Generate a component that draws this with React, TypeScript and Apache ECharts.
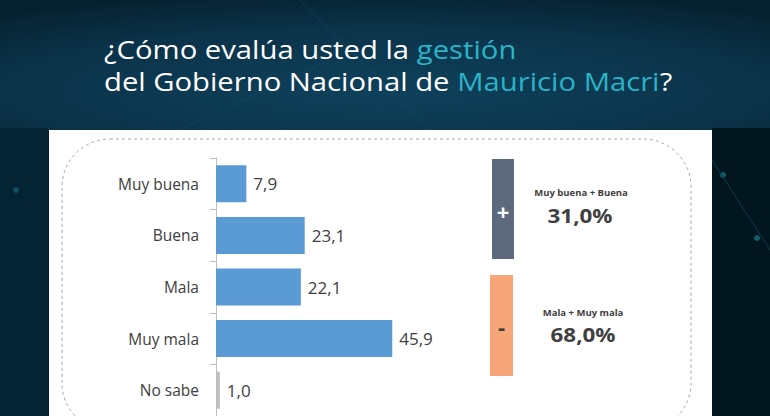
import React, { useEffect, useRef } from "react";
import * as echarts from "echarts";

const categories = ["Muy buena", "Buena", "Mala", "Muy mala", "No sabe"];
const values = [7.9, 23.1, 22.1, 45.9, 1.0];
const barColors = ["#5b9bd5", "#5b9bd5", "#5b9bd5", "#5b9bd5", "#bfbfbf"];

const summaryTitles = ["Muy buena + Buena", "Mala + Muy mala"];
const summaryValues = [31.0, 68.0];
const summarySigns = ["+", "-"];

const fmt = (v: number) => v.toFixed(1).replace(".", ",");

export default function App() {
  const ref = useRef<HTMLDivElement>(null);
  useEffect(() => {
    if (!ref.current) return;
    const chart = echarts.init(ref.current, undefined, { renderer: "svg" });
    const font = "'Open Sans', sans-serif";
    const titleRich = {
      w: { fill: "#ffffff", fontSize: 25, fontFamily: font },
      h: { fill: "#2bb3c8", fontSize: 25, fontFamily: font },
    };
    chart.setOption({
      animation: false,
      backgroundColor: "#03202b",
      grid: { left: 216, top: 158, width: 384, height: 260 },
      xAxis: { type: "value", min: 0, max: 100, show: false },
      yAxis: {
        type: "category",
        data: categories,
        inverse: true,
        axisLine: { show: true, lineStyle: { color: "#bfbfbf", width: 1 } },
        axisTick: { show: true, length: 6, lineStyle: { color: "#bfbfbf" } },
        axisLabel: { color: "#404040", fontSize: 15.5, fontFamily: font, margin: 17 },
      },
      graphic: [
        {
          type: "rect", z: -20,
          shape: { x: 0, y: 0, width: 770, height: 130 },
          style: {
            fill: new echarts.graphic.RadialGradient(0.5, 0.7, 0.8, [
              { offset: 0, color: "#0f415c" },
              { offset: 0.6, color: "#0b334a" },
              { offset: 1, color: "#05202e" },
            ]),
          },
        },
        {
          type: "rect", z: -20,
          shape: { x: 712, y: 128, width: 58, height: 288 },
          style: { fill: "#021620" },
        },
        {
          type: "rect", z: -20,
          shape: { x: 0, y: 128, width: 48, height: 288 },
          style: { fill: "#042433" },
        },
        { type: "circle", z: -19, shape: { cx: 723, cy: 175, r: 3 }, style: { fill: "#1f7890", opacity: 0.7 } },
        { type: "circle", z: -19, shape: { cx: 757, cy: 238, r: 3 }, style: { fill: "#1f7890", opacity: 0.7 } },
        { type: "circle", z: -19, shape: { cx: 16, cy: 190, r: 3 }, style: { fill: "#1f7890", opacity: 0.5 } },
        { type: "line", z: -19, shape: { x1: 712, y1: 160, x2: 770, y2: 250 }, style: { stroke: "#0f3a4a", lineWidth: 1 } },
        { type: "line", z: -19, shape: { x1: 300, y1: 0, x2: 430, y2: 130 }, style: { stroke: "#1a5570", lineWidth: 1, opacity: 0.4 } },
        { type: "line", z: -19, shape: { x1: 180, y1: 130, x2: 330, y2: 60 }, style: { stroke: "#1a5570", lineWidth: 1, opacity: 0.4 } },
        {
          type: "rect", z: -18,
          shape: { x: 49, y: 130, width: 663, height: 286 },
          style: { fill: "#ffffff" },
        },
        {
          type: "rect", z: -17,
          shape: { x: 62, y: 139, width: 629, height: 292, r: 48 },
          style: { fill: "none", stroke: "#a6a6a6", lineWidth: 1, lineDash: [3, 3] },
        },
        {
          type: "text", z: 5, x: 104, y: 49, scaleX: 1.17,
          style: { text: "{w|¿Cómo evalúa usted la }{h|gestión}", verticalAlign: "middle", rich: titleRich },
        },
        {
          type: "text", z: 5, x: 104, y: 81, scaleX: 1.17,
          style: { text: "{w|del Gobierno Nacional de }{h|Mauricio Macri}{w|?}", verticalAlign: "middle", rich: titleRich },
        },
        {
          type: "rect", z: 5,
          shape: { x: 492, y: 159, width: 22, height: 100 },
          style: { fill: "#5d6a7e" },
        },
        {
          type: "text", z: 6, x: 503, y: 211,
          style: { text: summarySigns[0], fill: "#ffffff", fontSize: 22, fontWeight: "bold", fontFamily: font, align: "center", verticalAlign: "middle" },
        },
        {
          type: "rect", z: 5,
          shape: { x: 490, y: 275, width: 23, height: 101 },
          style: { fill: "#f9a57a" },
        },
        {
          type: "text", z: 6, x: 501.5, y: 326,
          style: { text: summarySigns[1], fill: "#404040", fontSize: 22, fontWeight: "bold", fontFamily: font, align: "center", verticalAlign: "middle" },
        },
        {
          type: "text", z: 6, x: 581, y: 193, scaleX: 1.12,
          style: { text: summaryTitles[0], fill: "#404040", fontSize: 8.5, fontWeight: "bold", fontFamily: font, align: "center", verticalAlign: "middle" },
        },
        {
          type: "text", z: 6, x: 580, y: 215, scaleX: 1.12,
          style: { text: fmt(summaryValues[0]) + "%", fill: "#404040", fontSize: 20, fontWeight: "bold", fontFamily: font, align: "center", verticalAlign: "middle" },
        },
        {
          type: "text", z: 6, x: 583, y: 313, scaleX: 1.12,
          style: { text: summaryTitles[1], fill: "#404040", fontSize: 8.5, fontWeight: "bold", fontFamily: font, align: "center", verticalAlign: "middle" },
        },
        {
          type: "text", z: 6, x: 583, y: 334, scaleX: 1.12,
          style: { text: fmt(summaryValues[1]) + "%", fill: "#404040", fontSize: 20, fontWeight: "bold", fontFamily: font, align: "center", verticalAlign: "middle" },
        },
      ],
      series: [
        {
          type: "bar",
          barWidth: 37,
          data: values.map((v, i) => ({ value: v, itemStyle: { color: barColors[i] } })),
          label: {
            show: true,
            position: "right",
            distance: 7,
            color: "#404040",
            fontSize: 17,
            fontFamily: font,
            formatter: (p: any) => fmt(p.value),
          },
        },
      ],
    });
    return () => chart.dispose();
  }, []);
  return (
    <div
      ref={ref}
      style={{ position: "fixed", left: 0, top: 0, width: 770, height: 416 }}
    />
  );
}
